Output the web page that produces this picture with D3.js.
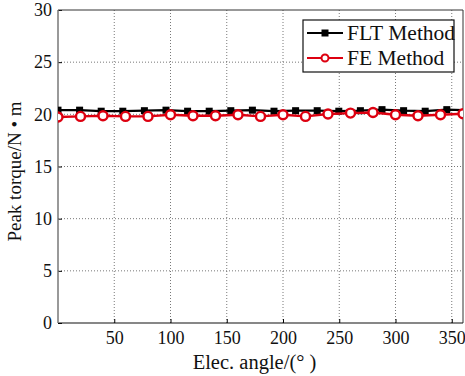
<!DOCTYPE html>
<html>
<head>
<meta charset="utf-8">
<script src="https://cdn.jsdelivr.net/npm/d3@7"></script>
<style>
  body { margin: 0; background: #fff; }
  svg { display: block; font-family: "Liberation Serif", "DejaVu Serif", serif; }
  svg text { font-family: "Liberation Serif", "DejaVu Serif", serif; }
</style>
</head>
<body>
<div id="chart"></div>
<script>
// FLT method, sampled every 19.2 elec. degrees
const fltStep = 19.2;
const fltValues = [20.4, 20.4, 20.3, 20.3, 20.35, 20.4, 20.3, 20.3, 20.35, 20.4,
                   20.3, 20.35, 20.35, 20.3, 20.35, 20.45, 20.35, 20.3, 20.45, 20.4];
// FE method, sampled every 20 elec. degrees
const feStep = 20;
const feValues = [19.74, 19.8, 19.87, 19.8, 19.8, 19.96, 19.87, 19.87, 19.96, 19.8,
                  19.96, 19.8, 20.03, 20.12, 20.18, 19.96, 19.87, 19.96, 20.06];

const xTicks = [50, 100, 150, 200, 250, 300, 350];
const yTicks = [0, 5, 10, 15, 20, 25, 30];

const serif = '"Liberation Serif", "DejaVu Serif", serif';

const width = 465;
const height = 376;
const margin = {top: 10, right: 2, bottom: 53, left: 58};
const innerW = width - margin.left - margin.right;
const innerH = height - margin.top - margin.bottom;

const svg = d3.select("#chart").append("svg")
    .attr("width", width)
    .attr("height", height);

const g = svg.append("g")
    .attr("transform", `translate(${margin.left}, ${margin.top})`);

const x = d3.scaleLinear().domain([0, 360]).range([0, innerW]);
const y = d3.scaleLinear().domain([0, 30]).range([innerH, 0]);

// grid
g.append("g")
    .selectAll("line")
    .data(xTicks)
    .join("line")
    .attr("x1", d => x(d)).attr("x2", d => x(d))
    .attr("y1", 0).attr("y2", innerH)
    .attr("stroke", "#555")
    .attr("stroke-width", 0.8)
    .attr("stroke-dasharray", "1,2");

g.append("g")
    .selectAll("line")
    .data(yTicks.filter(d => d > 0 && d < 30))
    .join("line")
    .attr("x1", 0).attr("x2", innerW)
    .attr("y1", d => y(d)).attr("y2", d => y(d))
    .attr("stroke", "#555")
    .attr("stroke-width", 0.8)
    .attr("stroke-dasharray", "1,2");

// axes
const xAxis = g.append("g")
    .attr("transform", `translate(0, ${innerH})`)
    .call(d3.axisBottom(x).tickValues(xTicks).tickSizeInner(-4).tickSizeOuter(0).tickPadding(8));
xAxis.select(".domain").remove();
xAxis.selectAll("text")
    .style("font-family", serif)
    .style("font-size", "18px")
    .attr("fill", "#111");

const yAxis = g.append("g")
    .call(d3.axisLeft(y).tickValues(yTicks).tickSizeInner(-4).tickSizeOuter(0).tickPadding(6));
yAxis.select(".domain").remove();
yAxis.selectAll("text")
    .style("font-family", serif)
    .style("font-size", "18px")
    .attr("fill", "#111");

// frame
g.append("line").attr("x1", 0).attr("x2", innerW).attr("y1", 0).attr("y2", 0).attr("stroke", "#333");
g.append("line").attr("x1", innerW).attr("x2", innerW).attr("y1", 0).attr("y2", innerH).attr("stroke", "#333");
g.append("line").attr("x1", 0).attr("x2", innerW).attr("y1", innerH).attr("y2", innerH).attr("stroke", "#111").attr("stroke-width", 1.2);
g.append("line").attr("x1", 0).attr("x2", 0).attr("y1", 0).attr("y2", innerH).attr("stroke", "#777").attr("stroke-width", 1.5);

// clip
svg.append("defs").append("clipPath").attr("id", "plot-clip")
    .append("rect").attr("x", 0).attr("y", -10).attr("width", innerW).attr("height", innerH + 20);

const plot = g.append("g").attr("clip-path", "url(#plot-clip)");

const fltData = fltValues.map((v, i) => [i * fltStep, v]);
const feData = feValues.map((v, i) => [i * feStep, v]);

const line = d3.line().x(d => x(d[0])).y(d => y(d[1]));

plot.append("path")
    .datum(fltData)
    .attr("d", line)
    .attr("fill", "none")
    .attr("stroke", "#000")
    .attr("stroke-width", 2.2);

plot.selectAll(".flt-mark")
    .data(fltData)
    .join("rect")
    .attr("class", "flt-mark")
    .attr("x", d => x(d[0]) - 3.5)
    .attr("y", d => y(d[1]) - 3.5)
    .attr("width", 7)
    .attr("height", 7)
    .attr("fill", "#000");

plot.append("path")
    .datum(feData)
    .attr("d", line)
    .attr("fill", "none")
    .attr("stroke", "#dd0010")
    .attr("stroke-width", 2.4);

plot.selectAll(".fe-mark")
    .data(feData)
    .join("circle")
    .attr("class", "fe-mark")
    .attr("cx", d => x(d[0]))
    .attr("cy", d => y(d[1]))
    .attr("r", 4.5)
    .attr("fill", "#fff")
    .attr("stroke", "#dd0010")
    .attr("stroke-width", 2.4);

// legend
const legend = svg.append("g").attr("transform", "translate(303, 20)");
legend.append("rect")
    .attr("width", 151).attr("height", 52)
    .attr("fill", "#fff").attr("stroke", "#111").attr("stroke-width", 1.2);

const legendItems = [
    {label: "FLT Method", color: "#000", mark: "square"},
    {label: "FE Method", color: "#dd0010", mark: "circle"}
];

legendItems.forEach((d, i) => {
    const row = legend.append("g").attr("transform", `translate(0, ${13 + i * 25})`);
    row.append("line").attr("x1", 4).attr("x2", 40).attr("y1", 0).attr("y2", 0)
        .attr("stroke", d.color).attr("stroke-width", 2.2);
    if (d.mark === "square") {
        row.append("rect").attr("x", 18.5).attr("y", -3.5).attr("width", 7).attr("height", 7).attr("fill", d.color);
    } else {
        row.append("circle").attr("cx", 22).attr("cy", 0).attr("r", 3.5)
            .attr("fill", "#fff").attr("stroke", d.color).attr("stroke-width", 2);
    }
    row.append("text").attr("x", 44).attr("y", 7)
        .attr("font-size", 21.5).attr("fill", "#111").text(d.label);
});

// axis labels
svg.append("text")
    .attr("x", margin.left + innerW / 2 - 6)
    .attr("y", 369)
    .attr("text-anchor", "middle")
    .attr("font-size", 20.5)
    .attr("fill", "#111")
    .text("Elec. angle/(° )");

svg.append("text")
    .attr("transform", `translate(21, ${margin.top + innerH / 2 + 5}) rotate(-90)`)
    .attr("text-anchor", "middle")
    .attr("font-size", 19)
    .attr("fill", "#111")
    .text("Peak torque/N • m");
</script>
</body>
</html>
